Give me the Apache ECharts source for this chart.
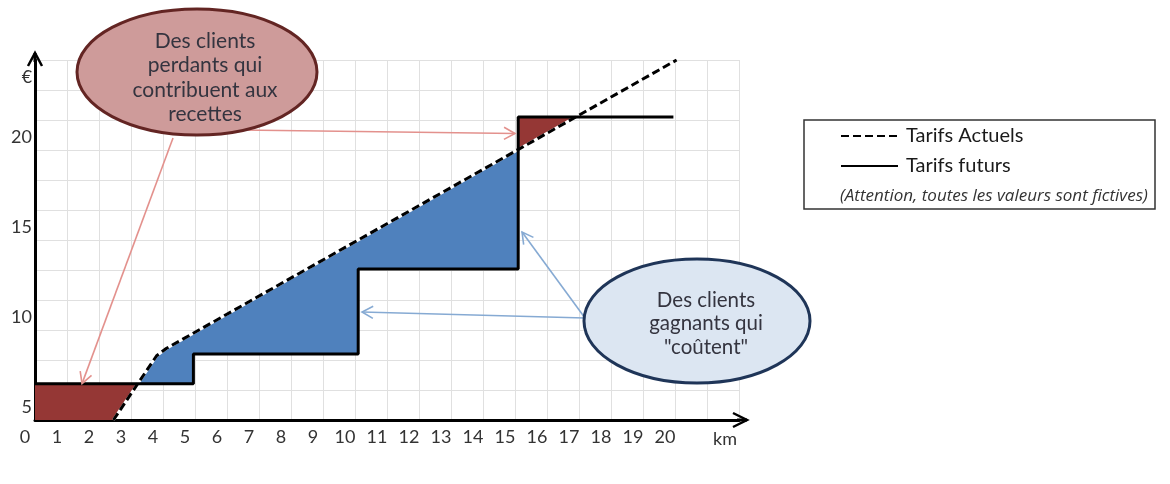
<!DOCTYPE html>
<html>
<head>
<meta charset="utf-8">
<script src="https://cdn.jsdelivr.net/npm/echarts@6/dist/echarts.min.js"></script>
<style>
html,body{margin:0;padding:0;background:#fff;}
#chart{width:1170px;height:484px;}
</style>
</head>
<body>
<div id="chart"></div>
<script>
// ---- data ----
const xTickLabels = ['0','1','2','3','4','5','6','7','8','9','10','11','12','13','14','15','16','17','18','19','20'];
const yTickValues = [5, 10, 15, 20];
const seriesNames = ['Tarifs Actuels', 'Tarifs futurs'];
// current tariffs (dashed), [km, €]
const currentTariff = [[2.45, 4.28], [3.8, 7.85], [4.1, 8.25], [20.05, 24.28]];
// future tariffs (solid steps), [km, €]
const futureTariff = [[0, 6.3], [4.95, 6.3], [4.95, 7.95], [10.1, 7.95], [10.1, 12.67], [15.1, 12.67], [15.1, 21.11], [19.95, 21.11]];
// shaded regions between the two tariffs
const losersLowArea = [[0, 4.28], [0, 6.3], [3.21, 6.3], [2.45, 4.28]];
const winnersArea = [[3.21, 6.3], [3.8, 7.85], [4.1, 8.25], [15.1, 19.31], [15.1, 12.67], [10.1, 12.67], [10.1, 7.95], [4.95, 7.95], [4.95, 6.3]];
const losersHighArea = [[15.1, 19.31], [15.1, 21.11], [16.88, 21.11]];
// annotation anchors (data coordinates the arrows point to)
const losersLowTarget = [1.47, 6.3];
const losersHighTarget = [15.0, 20.2];
const winnersTargetA = [10.22, 10.28];
const winnersTargetB = [15.22, 14.72];
const calloutLosers = ['Des clients', 'perdants qui', 'contribuent aux', 'recettes'];
const calloutWinners = ['Des clients', 'gagnants qui', '"coûtent"'];
const noteText = '(Attention, toutes les valeurs sont fictives)';

// ---- chart ----
const FONT = 'Lato, "Open Sans", sans-serif';
const X_MIN = 0, X_MAX = 22, Y_MIN = 4.28, Y_MAX = 24.28;
const fillAreas = [losersLowArea, winnersArea, losersHighArea];
const fillColors = ['#953735', '#4F81BD', '#953735'];

const chart = echarts.init(document.getElementById('chart'), null, {renderer: 'canvas'});

const option = {
  animation: false,
  backgroundColor: '#ffffff',
  grid: {left: 35, top: 60, width: 704, height: 360, containLabel: false},
  xAxis: [{
    type: 'value', min: X_MIN, max: X_MAX, interval: 1,
    axisLine: {show: true, onZero: false, lineStyle: {color: '#000', width: 3}},
    axisTick: {show: false},
    axisLabel: {
      color: '#333', fontFamily: FONT, fontSize: 18, margin: 8,
      padding: [0, 20, 0, 0],
      formatter: v => (v <= 20 ? xTickLabels[v] : '')
    },
    splitLine: {show: true, lineStyle: {color: '#e0e0e0', width: 1}}
  }],
  yAxis: [{
    type: 'value', min: Y_MIN, max: Y_MAX,
    axisLine: {show: true, onZero: false, lineStyle: {color: '#000', width: 3}},
    axisTick: {show: false},
    axisLabel: {color: '#333', fontFamily: FONT, fontSize: 18, margin: 3, customValues: yTickValues,
      formatter: v => String(v)},
    splitLine: {show: false}
  }, {
    type: 'value', min: 0, max: 12, interval: 1, position: 'left',
    axisLine: {show: false}, axisTick: {show: false}, axisLabel: {show: false},
    splitLine: {show: true, lineStyle: {color: '#e0e0e0', width: 1}}
  }],
  legend: {
    data: seriesNames, orient: 'vertical', left: 840, top: 126, padding: 0,
    itemWidth: 57, itemHeight: 14, itemGap: 10, selectedMode: false,
    itemStyle: {color: 'rgba(0,0,0,0)', borderColor: 'rgba(0,0,0,0)', borderWidth: 0},
    textStyle: {fontFamily: FONT, fontSize: 20, color: '#1a1a1a', padding: [0, 0, 0, 3]}
  },
  series: [{
    type: 'custom', silent: true, z: 1,
    renderItem: (params, api) => {
      const pts = fillAreas[params.dataIndex].map(p => api.coord(p));
      return {type: 'polygon', shape: {points: pts}, style: {fill: fillColors[params.dataIndex]}};
    },
    data: fillAreas.map((a, i) => [a[0][0], a[0][1]])
  }, {
    type: 'line', silent: true, z: 3, symbol: 'none',
    data: currentTariff,
    lineStyle: {color: '#ffffff', width: 3}
  }, {
    name: seriesNames[0], type: 'line', z: 4, symbol: 'none',
    data: currentTariff,
    itemStyle: {color: '#000'},
    lineStyle: {color: '#000', width: 3, type: [8, 4]}
  }, {
    name: seriesNames[1], type: 'line', z: 4, symbol: 'none',
    data: futureTariff,
    itemStyle: {color: '#000'},
    lineStyle: {color: '#000', width: 3}
  }]
};
chart.setOption(option);

// ---- annotations ----
function px(p) { return chart.convertToPixel({gridIndex: 0}, p); }
function arrow(from, to, color, width, head) {
  const dx = to[0] - from[0], dy = to[1] - from[1];
  const len = Math.sqrt(dx * dx + dy * dy);
  const ux = dx / len, uy = dy / len;
  const h = head || 10, w = h * 0.55;
  const b1 = [to[0] - ux * h - uy * w, to[1] - uy * h + ux * w];
  const b2 = [to[0] - ux * h + uy * w, to[1] - uy * h - ux * w];
  return [
    {type: 'line', silent: true, z: 50, shape: {x1: from[0], y1: from[1], x2: to[0], y2: to[1]},
      style: {stroke: color, lineWidth: width}},
    {type: 'polyline', silent: true, z: 50, shape: {points: [b1, to, b2]},
      style: {stroke: color, lineWidth: width, fill: null}}
  ];
}

const origin = px([X_MIN, Y_MIN]);
const xEnd = px([X_MAX, Y_MIN]);
const yEnd = px([X_MIN, Y_MAX]);
const g = [];
// axis arrowheads (open chevrons beyond the grid)
const xTip = [xEnd[0] + 8, xEnd[1]];
g.push({type: 'line', silent: true, z: 60, shape: {x1: xEnd[0] - 2, y1: xEnd[1], x2: xTip[0], y2: xTip[1]}, style: {stroke: '#000', lineWidth: 3}});
g.push({type: 'polyline', silent: true, z: 60, shape: {points: [[xTip[0] - 14, xTip[1] - 7], xTip, [xTip[0] - 14, xTip[1] + 7]]}, style: {stroke: '#000', lineWidth: 2.5, fill: null}});
const yTip = [yEnd[0], yEnd[1] - 7];
g.push({type: 'line', silent: true, z: 60, shape: {x1: yEnd[0], y1: yEnd[1] + 2, x2: yTip[0], y2: yTip[1]}, style: {stroke: '#000', lineWidth: 3}});
g.push({type: 'polyline', silent: true, z: 60, shape: {points: [[yTip[0] - 7, yTip[1] + 13], yTip, [yTip[0] + 7, yTip[1] + 13]]}, style: {stroke: '#000', lineWidth: 2.5, fill: null}});
// axis names
g.push({type: 'text', silent: true, z: 60, style: {x: origin[0] - 8, y: yEnd[1] + 17, text: '€', font: '18px ' + FONT, fill: '#333', align: 'center', verticalAlign: 'middle'}});
g.push({type: 'text', silent: true, z: 60, style: {x: xEnd[0] - 14, y: origin[1] + 19, text: 'km', font: '18px ' + FONT, fill: '#333', align: 'center', verticalAlign: 'middle'}});

// red callout arrows
const redArrow = '#E3918D';
g.push(...arrow([173, 138], px(losersLowTarget), redArrow, 1.6, 11));
g.push(...arrow([240, 130], px(losersHighTarget), redArrow, 1.6, 11));
// blue callout arrows
const blueArrow = '#86AAD3';
g.push(...arrow([585, 318], px(winnersTargetA), blueArrow, 1.6, 11));
g.push(...arrow([585, 318], px(winnersTargetB), blueArrow, 1.6, 11));

// red ellipse
g.push({type: 'ellipse', silent: true, z: 70, shape: {cx: 197, cy: 72, rx: 120, ry: 63},
  style: {fill: '#CE9B9A', stroke: '#632523', lineWidth: 3}});
calloutLosers.forEach((t, i) => {
  g.push({type: 'text', silent: true, z: 71, style: {x: 205, y: 41 + i * 24.5, text: t, font: '21px ' + FONT, fill: '#34343f', align: 'center', verticalAlign: 'middle'}});
});
// blue ellipse
g.push({type: 'ellipse', silent: true, z: 70, shape: {cx: 697, cy: 321, rx: 113, ry: 62},
  style: {fill: '#DCE6F2', stroke: '#1F3558', lineWidth: 3}});
calloutWinners.forEach((t, i) => {
  g.push({type: 'text', silent: true, z: 71, style: {x: 706, y: 300 + i * 23.5, text: t, font: '20.5px ' + FONT, fill: '#34343f', align: 'center', verticalAlign: 'middle'}});
});

// legend frame and note
g.push({type: 'rect', silent: true, z: 5, shape: {x: 804, y: 120, width: 351, height: 89},
  style: {fill: null, stroke: '#333', lineWidth: 1.5}});
g.push({type: 'text', silent: true, z: 6, style: {x: 840, y: 196, text: noteText, font: 'italic 17px "Open Sans", Lato, sans-serif', fill: '#333', align: 'left', verticalAlign: 'middle'}});

chart.setOption({graphic: {elements: g}});
</script>
</body>
</html>
